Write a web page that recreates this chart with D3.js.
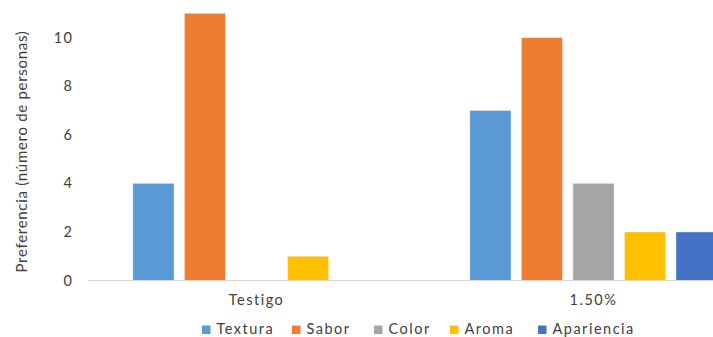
<!DOCTYPE html>
<html>
<head>
<meta charset="utf-8">
<script src="https://cdn.jsdelivr.net/npm/d3@7"></script>
<style>
  html, body { margin: 0; padding: 0; background: #fff; }
  svg { display: block; }
  text { font-family: "Lato", "Liberation Sans", sans-serif; fill: #404040; }
</style>
</head>
<body>
<svg id="chart" width="713" height="337"></svg>
<script>
// Chart data
const categories = ["Testigo", "1.50%"];
const seriesNames = ["Textura", "Sabor", "Color", "Aroma", "Apariencia"];
const seriesColors = ["#5B9BD5", "#ED7D31", "#A5A5A5", "#FFC000", "#4472C4"];
const textura = [4, 7];
const sabor = [11, 10];
const color = [0, 4];
const aroma = [1, 2];
const apariencia = [0, 2];
const yTicks = [0, 2, 4, 6, 8, 10];
const yTitle = "Preferencia (número de personas)";

const seriesValues = [textura, sabor, color, aroma, apariencia];

const svg = d3.select("#chart");
const W = 713, H = 337;
const FONT = '"Lato", "Liberation Sans", sans-serif';

// Plot geometry: the second group runs past the right edge
const plotLeft = 88, plotRight = 762;
const yBottom = 280.5, yTop = 13.3;

const x0 = d3.scaleBand().domain(categories).range([plotLeft, plotRight]).padding(0);
const x1 = d3.scaleBand().domain(seriesNames).range([0, x0.bandwidth()])
  .paddingInner(0.2).paddingOuter(0.87);
const y = d3.scaleLinear().domain([0, 11]).range([yBottom, yTop]);

// Bars
const groups = svg.append("g").selectAll("g")
  .data(categories)
  .join("g")
  .attr("transform", d => `translate(${x0(d)},0)`);

groups.selectAll("rect")
  .data((c, ci) => seriesNames.map((s, si) => ({ s, si, v: seriesValues[si][ci] })))
  .join("rect")
  .attr("x", d => x1(d.s))
  .attr("width", x1.bandwidth())
  .attr("y", d => y(d.v))
  .attr("height", d => y(0) - y(d.v))
  .attr("fill", d => seriesColors[d.si])
  .attr("stroke", "#ffffff")
  .attr("stroke-opacity", 0.5)
  .attr("stroke-width", 0.8);

// Horizontal baseline
svg.append("line")
  .attr("x1", plotLeft).attr("x2", W)
  .attr("y1", yBottom).attr("y2", yBottom)
  .attr("stroke", "#d9d9d9").attr("stroke-width", 1.2);

// Y axis tick labels
const yAxis = d3.axisLeft(y).tickValues(yTicks).tickSize(0).tickPadding(0);
const yg = svg.append("g").attr("transform", "translate(73.5,0)").call(yAxis);
yg.select(".domain").remove();
yg.selectAll("text")
  .style("font-family", FONT)
  .style("font-size", "14.5px")
  .style("letter-spacing", "1.5px")
  .attr("fill", "#404040");

// Category labels
const xAxis = d3.axisBottom(x0).tickSize(0).tickPadding(0);
const xg = svg.append("g").attr("transform", `translate(0,${yBottom + 14})`).call(xAxis);
xg.select(".domain").remove();
xg.selectAll("text")
  .style("font-family", FONT)
  .style("font-size", "14.5px")
  .style("letter-spacing", "1.5px")
  .attr("fill", "#404040");

// Y axis title
svg.append("text")
  .attr("transform", `translate(27,${(25 + 278) / 2}) rotate(-90)`)
  .attr("text-anchor", "middle")
  .style("font-size", "15px")
  .style("letter-spacing", "0.7px")
  .text(yTitle);

// Legend
const legendX = [202, 292, 374, 450, 538];
const legend = svg.append("g");
seriesNames.forEach((name, i) => {
  legend.append("rect")
    .attr("x", legendX[i]).attr("y", 325.5)
    .attr("width", 8.5).attr("height", 8.5)
    .attr("fill", seriesColors[i]);
  legend.append("text")
    .attr("x", legendX[i] + 14.5).attr("y", 334)
    .style("font-size", "14.5px")
    .style("letter-spacing", "1.5px")
    .text(name);
});
</script>
</body>
</html>
